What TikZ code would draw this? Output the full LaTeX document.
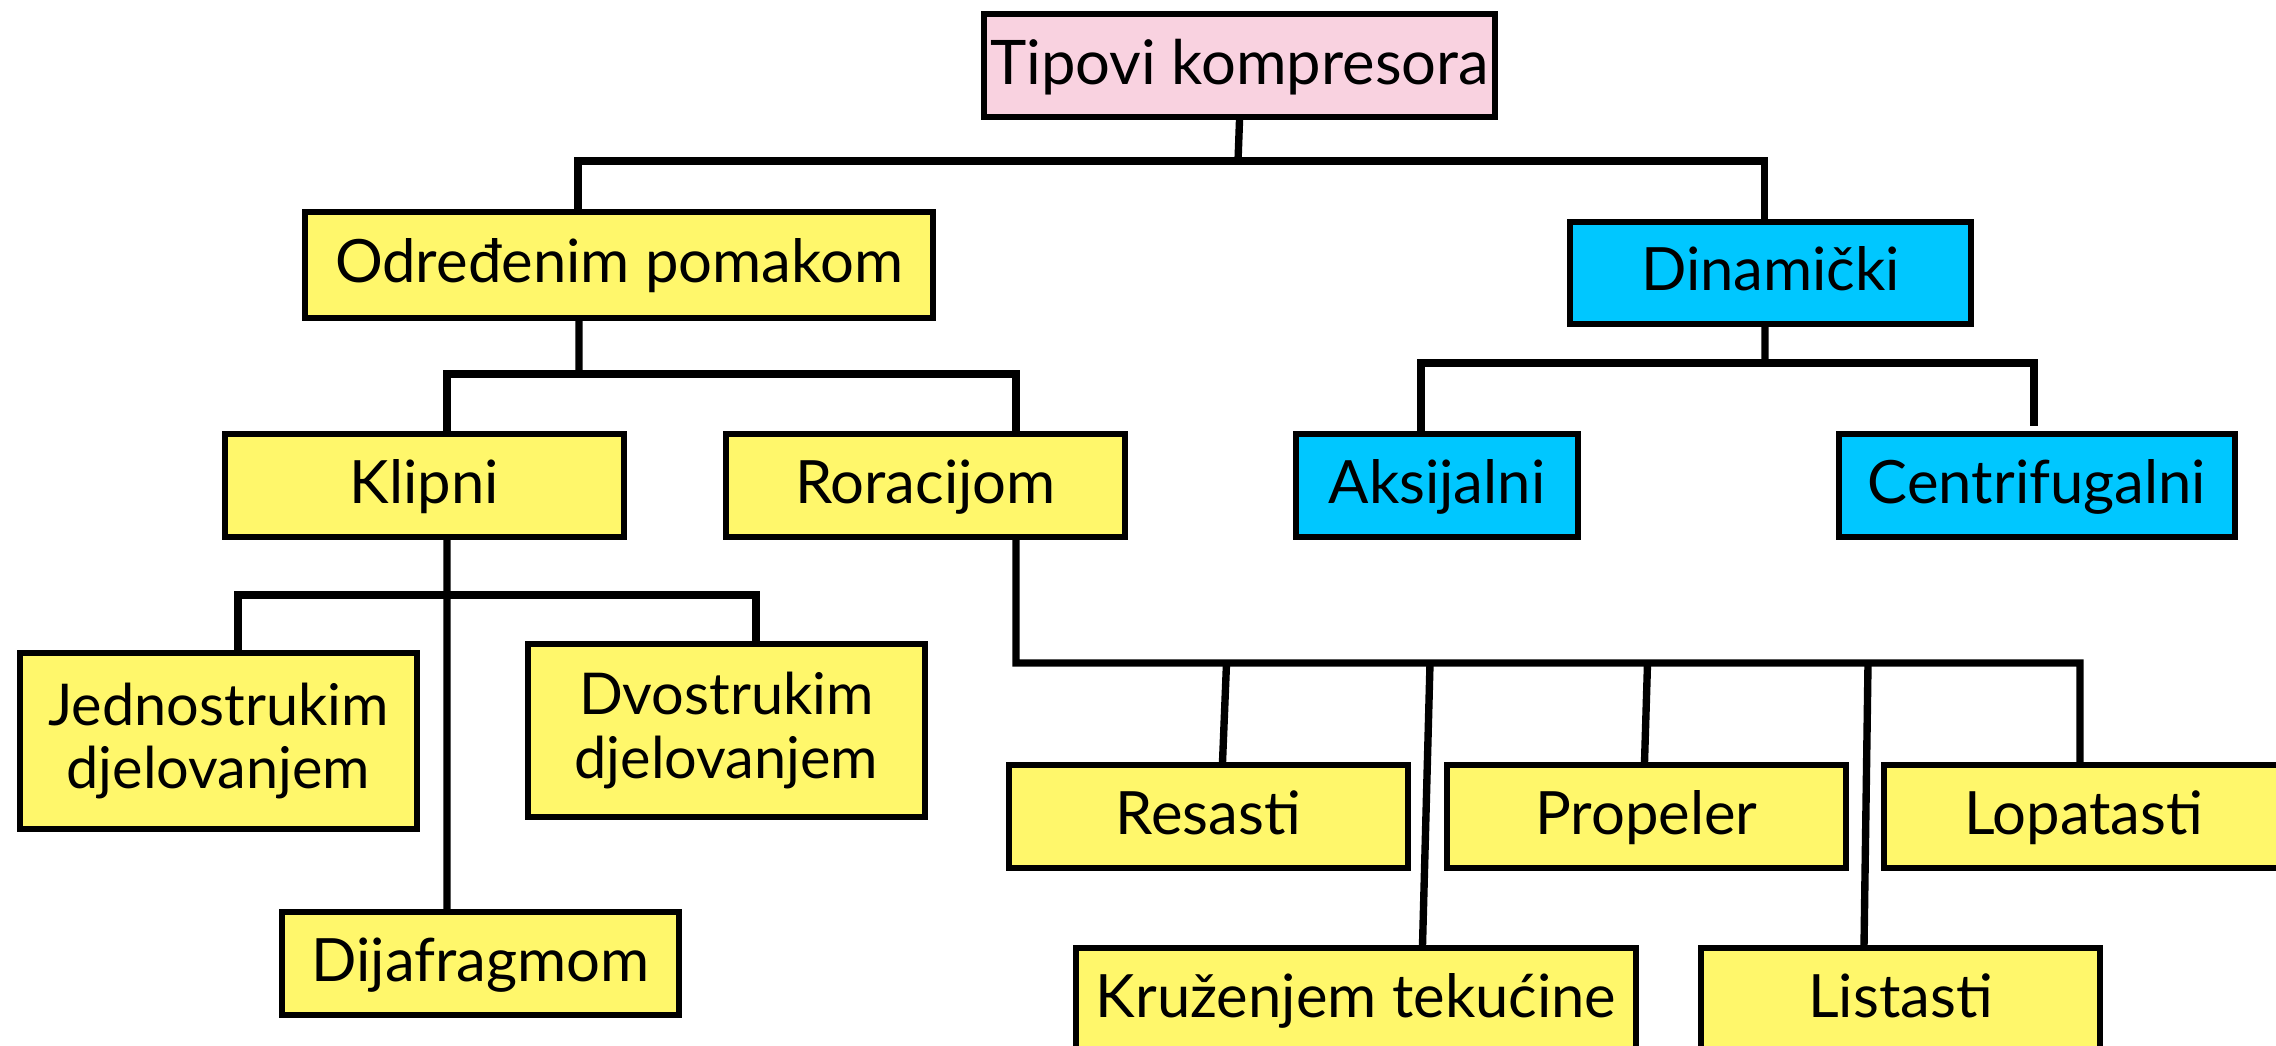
\documentclass[tikz,border=0pt]{standalone}
\usepackage{fontspec}
\setmainfont{Lato}
\usepackage{xcolor}
\usetikzlibrary{calc}

\definecolor{boxpink}{RGB}{249,210,224}
\definecolor{boxyellow}{RGB}{255,247,107}
\definecolor{boxcyan}{RGB}{0,199,255}

\tikzset{
  tbox/.style={draw=black, line width=1.7pt, inner sep=0pt, align=center,
    minimum height=1.03cm, font=\fontsize{17}{20}\selectfont},
  oneline/.style={text height=0.45cm, text depth=0.1cm},
  ybox/.style={tbox, oneline, fill=boxyellow, minimum width=3.99cm},
  y2box/.style={tbox, fill=boxyellow, minimum width=3.97cm,
    font=\fontsize{16.4}{18}\selectfont},
  cbox/.style={tbox, oneline, fill=boxcyan},
  link/.style={line width=2.1pt}
}

\begin{document}
\begin{tikzpicture}
\useasboundingbox (0,0) rectangle (22.76,-10.45);
\clip (0,0) rectangle (22.76,-10.45);

% Row positions
\def\rowa{-0.655}
\def\rowc{-4.855}
\def\rowd{-8.165}
\def\rowe{-9.995}
\def\busy{-6.63}

% Boxes
\node[tbox, oneline, fill=boxpink, minimum width=5.11cm, minimum height=1.03cm,
  font=\fontsize{17.5}{21}\selectfont, text height=0.47cm, text depth=0.1cm] (tip) at (12.395,\rowa) {Tipovi kompresora};
\node[ybox, minimum width=6.28cm, minimum height=1.06cm] (odr) at (6.19,-2.65) {Određenim pomakom};
\node[cbox, minimum width=4.01cm, minimum height=1.02cm] (din) at (17.705,-2.73) {Dinamički};

\node[ybox] (kli) at (4.245,\rowc) {Klipni};
\node[ybox] (ror) at (9.255,\rowc) {Roracijom};
\node[cbox, minimum width=2.82cm] (aks) at (14.37,\rowc) {Aksijalni};
\node[cbox, minimum width=3.96cm] (cen) at (20.37,\rowc) {Centrifugalni};

\node[y2box, minimum height=1.76cm] (jed) at (2.185,-7.41) {Jednostrukim\\djelovanjem};
\node[y2box, minimum height=1.73cm] (dvo) at (7.265,-7.305) {Dvostrukim\\djelovanjem};
\node[ybox, minimum width=3.97cm] (dij) at (4.805,-9.635) {Dijafragmom};

\node[ybox] (res) at (12.085,\rowd) {Resasti};
\node[ybox] (pro) at (16.465,\rowd) {Propeler};
\node[ybox] (lop) at (20.835,\rowd) {Lopatasti};
\node[ybox, minimum width=5.60cm] (kru) at (13.56,\rowe) {Kruženjem tekućine};
\node[ybox] (lis) at (19.005,\rowe) {Listasti};

% Bus junctions
\coordinate (j1) at (12.38,-1.61);
\coordinate (j2) at (5.79,-3.74);
\coordinate (j3) at (17.65,-3.63);
\coordinate (j4) at (4.47,-5.95);
\coordinate (j5) at (20.80,\busy);

% Top level
\draw[link] (tip.south) -- (j1);
\draw[link] ($(odr.north)+(-0.41,0)$) |- (j1) -| ($(din.north)+(-0.06,0)$);

% Određenim pomakom
\draw[link] ($(odr.south)+(-0.40,0)$) -- (j2);
\draw[link] ($(kli.north)+(0.225,0)$) |- (j2) -| ($(ror.north)+(0.905,0)$);

% Dinamički
\draw[link] ($(din.south)+(-0.055,0)$) -- (j3);
\draw[link] ($(aks.north)+(-0.16,0)$) |- (j3) -| ($(cen.north)+(-0.03,0.05)$);

% Klipni
\draw[link] ($(kli.south)+(0.225,0)$) -- ($(dij.north)+(-0.335,0)$);
\draw[link] ($(jed.north)+(0.195,0)$) |- (j4) -| ($(dvo.north)+(0.295,0)$);

% Roracijom
\draw[link] ($(ror.south)+(0.905,0)$) |- (j5) -- ($(lop.north)+(-0.035,0)$);
\coordinate (r1) at (12.265,\busy);
\coordinate (r2) at (14.30,\busy);
\coordinate (r3) at (16.475,\busy);
\coordinate (r4) at (18.68,\busy);
\draw[link] (r1) -- ($(res.north)+(0.14,0)$);
\draw[link] (r2) -- ($(kru.north)+(0.665,0)$);
\draw[link] (r3) -- ($(pro.north)+(-0.02,0)$);
\draw[link] (r4) -- ($(lis.north)+(-0.365,0)$);
\end{tikzpicture}
\end{document}
